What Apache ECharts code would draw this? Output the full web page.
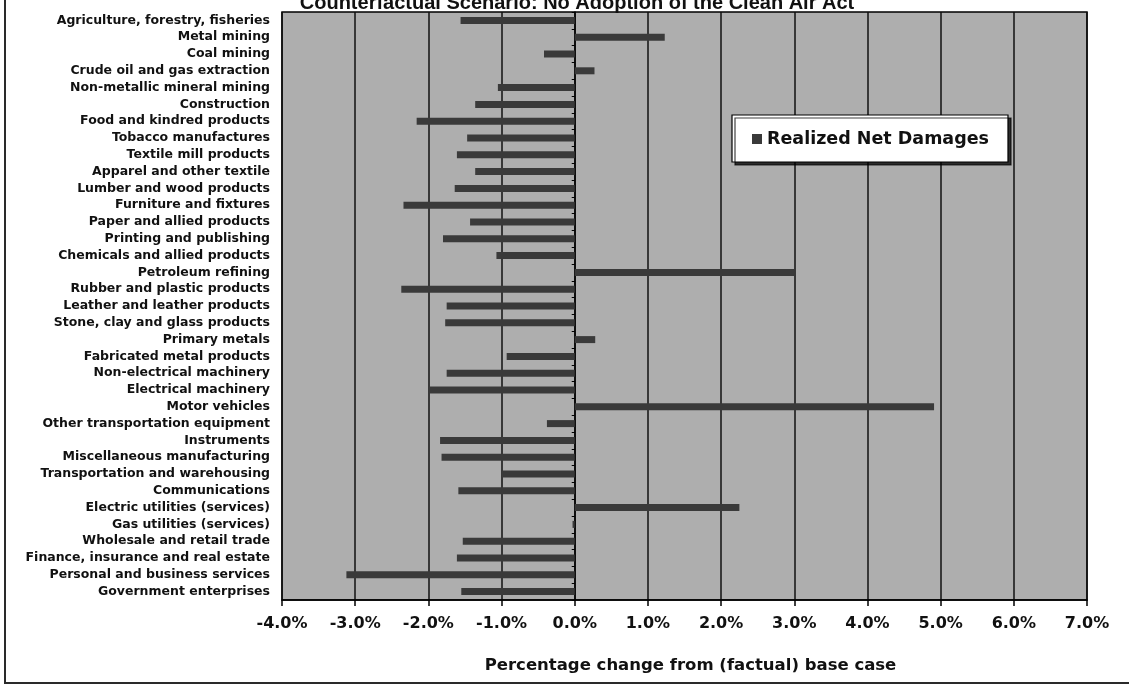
<!DOCTYPE html>
<html>
<head>
<meta charset="utf-8">
<title>Realized Net Damages by Industry</title>
<script src="https://cdn.jsdelivr.net/npm/echarts@6/dist/echarts.min.js"></script>
<style>
  html, body { margin: 0; padding: 0; background: #fff; }
  #chart { width: 1129px; height: 687px; }
</style>
</head>
<body>
<div id="chart"></div>
<script>
// Industries, top to bottom
const industries = [
  'Agriculture, forestry, fisheries',
  'Metal mining',
  'Coal mining',
  'Crude oil and gas extraction',
  'Non-metallic mineral mining',
  'Construction',
  'Food and kindred products',
  'Tobacco manufactures',
  'Textile mill products',
  'Apparel and other textile',
  'Lumber and wood products',
  'Furniture and fixtures',
  'Paper and allied products',
  'Printing and publishing',
  'Chemicals and allied products',
  'Petroleum refining',
  'Rubber and plastic products',
  'Leather and leather products',
  'Stone, clay and glass products',
  'Primary metals',
  'Fabricated metal products',
  'Non-electrical machinery',
  'Electrical machinery',
  'Motor vehicles',
  'Other transportation equipment',
  'Instruments',
  'Miscellaneous manufacturing',
  'Transportation and warehousing',
  'Communications',
  'Electric utilities (services)',
  'Gas utilities (services)',
  'Wholesale and retail trade',
  'Finance, insurance and real estate',
  'Personal and business services',
  'Government enterprises'
];

// Percentage change from the factual base case
const realizedNetDamages = [
  -1.56, 1.23, -0.42, 0.27, -1.05, -1.36, -2.16, -1.47, -1.61, -1.36,
  -1.64, -2.34, -1.43, -1.80, -1.07, 3.00, -2.37, -1.75, -1.77, 0.28,
  -0.93, -1.75, -1.98, 4.91, -0.38, -1.84, -1.82, -1.00, -1.59, 2.25,
  -0.03, -1.53, -1.61, -3.12, -1.55
];

const seriesName = 'Realized Net Damages';
const titleText = 'Counterfactual Scenario: No Adoption of the Clean Air Act';
const axisTitle = 'Percentage change from (factual) base case';
const xMin = -4, xMax = 7, xStep = 1;

const chart = echarts.init(document.getElementById('chart'), null, { renderer: 'canvas' });

const font = '"DejaVu Sans", Verdana, sans-serif';
const titleFont = 'Arial, "Liberation Sans", sans-serif';

chart.setOption({
  animation: false,
  backgroundColor: '#ffffff',
  title: {
    text: titleText,
    left: 572,
    textAlign: 'center',
    top: -12,
    textStyle: { fontFamily: titleFont, fontWeight: 'bold', fontSize: 20, color: '#111' }
  },
  legend: {
    data: [seriesName],
    left: 732,
    top: 115,
    orient: 'horizontal',
    icon: 'rect',
    itemWidth: 10,
    itemHeight: 10,
    itemGap: 6,
    padding: [15, 19, 14, 20],
    backgroundColor: '#ffffff',
    borderColor: '#000',
    borderWidth: 1.2,
    shadowColor: 'rgba(0,0,0,0.75)',
    shadowOffsetX: 3,
    shadowOffsetY: 3,
    shadowBlur: 0,
    textStyle: { fontFamily: font, fontWeight: 'bold', fontSize: 17.5, color: '#111' }
  },
  graphic: [{
    type: 'rect',
    shape: { x: 5, y: -10, width: 1140, height: 693 },
    style: { fill: 'none', stroke: '#2a2a2a', lineWidth: 2 },
    silent: true
  }],
  grid: {
    left: 282,
    right: 42,
    top: 12,
    bottom: 87,
    show: true,
    backgroundColor: '#aeaeae',
    borderColor: '#000',
    borderWidth: 1.5
  },
  xAxis: {
    type: 'value',
    min: xMin,
    max: xMax,
    interval: xStep,
    name: axisTitle,
    nameLocation: 'middle',
    nameGap: 57,
    nameTextStyle: { fontFamily: font, fontWeight: 'bold', fontSize: 16.5, color: '#111', padding: [0, 0, 0, 12] },
    axisLine: { show: true, onZero: false, lineStyle: { color: '#000', width: 1.5 } },
    axisTick: { show: true, inside: false, length: 6, lineStyle: { color: '#000', width: 1.5 } },
    axisLabel: {
      margin: 16,
      fontFamily: font,
      fontWeight: 'bold',
      fontSize: 16,
      color: '#111',
      formatter: v => v.toFixed(1) + '%'
    },
    splitLine: { show: true, lineStyle: { color: '#111', width: 1.5 } }
  },
  yAxis: [{
    type: 'category',
    data: industries,
    inverse: true,
    axisLine: { show: false, onZero: false },
    axisTick: { show: false },
    axisLabel: {
      margin: 12,
      fontFamily: font,
      fontWeight: 'bold',
      fontSize: 12.5,
      color: '#111',
      interval: 0
    },
    splitLine: { show: false }
  }, {
    // zero line with its small category ticks
    type: 'category',
    data: industries,
    inverse: true,
    position: 'left',
    axisLine: { show: true, onZero: true, lineStyle: { color: '#000', width: 1.5 } },
    axisTick: { show: true, length: 3, lineStyle: { color: '#000', width: 1 } },
    axisLabel: { show: false },
    splitLine: { show: false }
  }],
  series: [{
    name: seriesName,
    type: 'bar',
    yAxisIndex: 0,
    data: realizedNetDamages,
    barWidth: 7,
    itemStyle: { color: '#3a3a3a' }
  }]
});
</script>
</body>
</html>
